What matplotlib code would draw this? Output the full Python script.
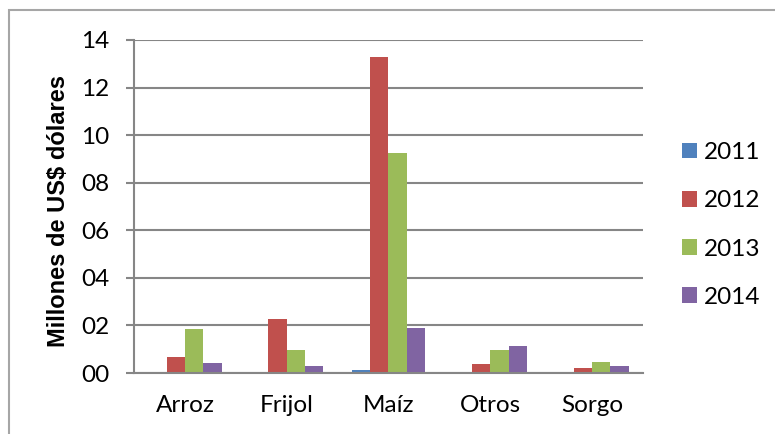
import matplotlib
matplotlib.use("Agg")
import matplotlib.pyplot as plt
import numpy as np
from matplotlib.patches import Rectangle

categories = ["Arroz", "Frijol", "Maíz", "Otros", "Sorgo"]
years = ["2011", "2012", "2013", "2014"]
v2011 = [0.0, 0.0, 0.14, 0.0, 0.0]
v2012 = [0.68, 2.26, 13.27, 0.38, 0.21]
v2013 = [1.86, 0.95, 9.24, 0.95, 0.46]
v2014 = [0.43, 0.29, 1.89, 1.15, 0.29]
series = [v2011, v2012, v2013, v2014]
colors = ["#4F81BD", "#C0504D", "#9BBB59", "#8064A2"]
ytick_vals = [0, 2, 4, 6, 8, 10, 12, 14]
ytick_labels = ["00", "02", "04", "06", "08", "10", "12", "14"]

W, H = 775, 434
fig = plt.figure(figsize=(W / 100, H / 100), dpi=100)
ax = fig.add_axes([134 / W, 1 - 373 / H, (643 - 134) / W, (373 - 40) / H])

x = np.arange(len(categories))
bw = 0.18
for i, (vals, c, yr) in enumerate(zip(series, colors, years)):
    ax.bar(x + (i - 1.5) * bw, vals, bw, color=c, label=yr, zorder=3)

ax.set_xlim(-0.5, len(categories) - 0.5)
ax.set_ylim(0, 14)
ax.set_yticks(ytick_vals)
ax.set_yticklabels(ytick_labels, family="Lato", fontsize=17.5)
ax.set_xticks(x)
ax.set_xticklabels(categories, family="Lato", fontsize=17.5)
ax.tick_params(axis="x", length=0, pad=16)
ax.tick_params(axis="y", length=6, width=1.5, color="#868686", pad=12, direction="out")
ax.yaxis.grid(True, color="#868686", linewidth=1.5, zorder=0)
for s in ["top", "right"]:
    ax.spines[s].set_visible(False)
for s in ["left", "bottom"]:
    ax.spines[s].set_color("#868686")
    ax.spines[s].set_linewidth(1.5)
ax.spines["bottom"].set_zorder(4)

fig.text(59 / W, 1 - 211 / H, "Millones de US\\$ dólares", rotation=90,
         ha="center", va="center", fontsize=17, fontweight="bold",
         family="Liberation Sans")

leg = ax.legend(loc="center left", bbox_to_anchor=(682 / W, 1 - 225 / H),
                bbox_transform=fig.transFigure, frameon=False,
                prop={"family": "Lato", "size": 17.5}, handlelength=0.62,
                handleheight=0.62, handletextpad=0.3, labelspacing=1.12,
                borderpad=0, borderaxespad=0)

fig.patches.append(Rectangle((9 / W, -0.05), 1, 1 - 10 / H + 0.05,
                             transform=fig.transFigure, fill=False,
                             edgecolor="#A6A6A6", linewidth=1.5))

fig.savefig("out.png", dpi=100)
